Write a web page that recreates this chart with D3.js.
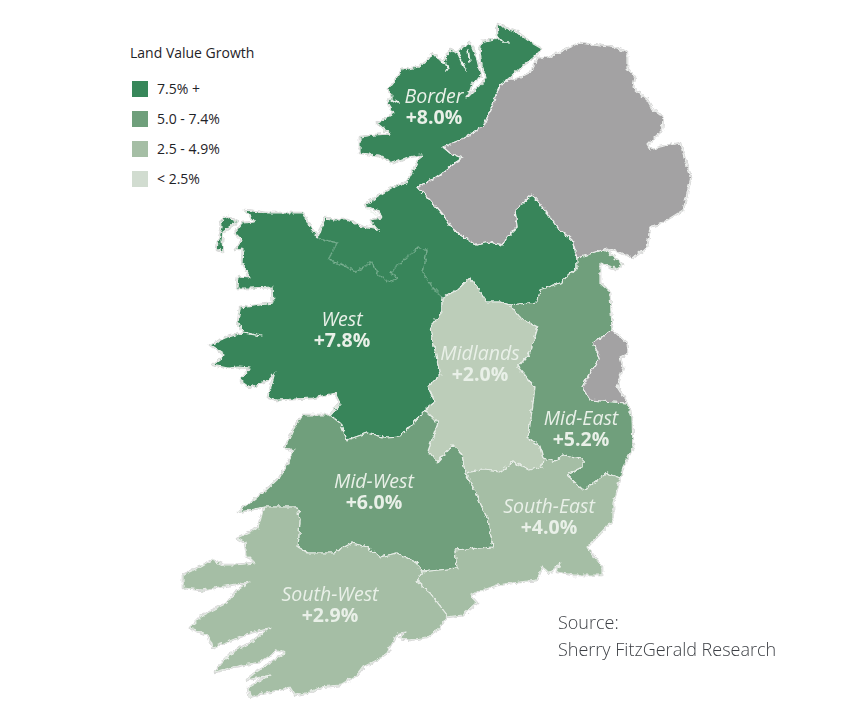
<!DOCTYPE html>
<html><head><meta charset="utf-8">
<script src="https://cdn.jsdelivr.net/npm/d3@7"></script>
<style>html,body{margin:0;padding:0;background:#fff}svg{display:block}text{font-family:"Open Sans",sans-serif}</style>
</head><body><svg id="c" width="862" height="705"></svg>
<script>
// ---- data ----
const regionNames = ["Border","West","Midlands","Mid-East","Mid-West","South-East","South-West"];
const regionValues = [8.0,7.8,2.0,5.2,6.0,4.0,2.9];
const legendTitle = "Land Value Growth";
const legendLabels = ["7.5% +","5.0 - 7.4%","2.5 - 4.9%","< 2.5%"];
const legendThresholds = [2.5,5,7.5];
const sourceLines = ["Source:","Sherry FitzGerald Research"];

// ---- map outline arcs (plane units) ----
const aBorderCoast=[[318,238],[325,218],[335,220],[347,220],[363,227],[378,230],[370,220],[382,218],[377,210],[365,205],[378,196],[393,187],[407,182],[413,170],[422,155],[408,157],[393,163],[378,155],[360,153],[360,137],[375,135],[390,134],[377,123],[386,118],[394,113],[387,102],[392,96],[388,90],[396,80],[402,70],[418,67],[428,60],[433,53],[440,60],[443,63],[450,50],[457,53],[463,47],[470,43],[477,60],[480,72],[481,77],[473,82],[470,90],[467,98],[473,92],[480,86],[486,78],[482,65],[480,52],[482,42],[498,38],[497,24],[506,28],[517,32],[530,42],[542,49],[533,58],[520,68],[507,80],[500,85]];
const aBorderNI=[[500,85],[497,92],[492,107],[483,127],[460,140],[443,147],[450,153],[462,158],[450,167],[432,180],[418,187],[430,200],[447,220],[453,230],[477,245],[490,242],[503,245],[507,237],[517,227],[515,210],[532,195],[547,213],[557,227],[572,240],[577,258]];
const aBorderMidEast=[[577,258],[577,268],[560,283],[540,290],[538,302],[510,305]];
const aBorderMidlands=[[510,305],[500,302],[487,302],[478,288],[470,278],[457,290],[442,298]];
const aWestBorder=[[442,298],[433,288],[423,273],[427,250],[418,247],[402,262],[390,273],[398,278],[388,282],[377,273],[372,262],[355,272],[343,265],[328,260],[337,243],[318,238]];
const aWestMidlands=[[442,298],[442,312],[430,328],[435,350],[440,375],[428,387],[435,402],[425,410]];
const aWestMidWest=[[425,410],[400,437],[387,438],[367,433],[347,440],[340,423],[330,415]];
const aWestCoast=[[330,415],[340,403],[335,393],[313,398],[277,400],[268,397],[275,372],[268,380],[250,387],[240,380],[250,368],[238,367],[228,368],[213,365],[225,355],[210,345],[225,338],[243,333],[262,336],[243,332],[238,322],[240,308],[273,303],[272,287],[250,288],[237,288],[238,277],[250,278],[242,262],[243,248],[235,250],[242,240],[235,233],[243,223],[255,222],[245,210],[267,213],[303,213],[310,227],[318,238]];
const aAchill=[[228,217],[237,222],[230,227],[223,232],[222,240],[223,252],[217,250],[218,242],[222,227],[221,220]];
const aMidlandsMidWest=[[425,410],[438,423],[428,450],[437,463],[453,445],[462,455],[465,473]];
const aMidlandsSE=[[465,473],[483,470],[500,472],[513,462],[530,470],[542,467],[543,458]];
const aMidlandsMidEast=[[543,458],[540,447],[528,437],[532,412],[535,387],[518,367],[530,353],[538,327],[520,318],[510,305]];
const aMidEastSE=[[543,458],[555,462],[563,455],[583,458],[583,467],[567,475],[583,490],[593,483],[607,473],[620,478]];
const aMidEastNI=[[577,258],[602,250],[608,252],[623,265],[617,269],[600,263],[600,283],[610,292],[612,330]];
const aMidEastDublin=[[612,330],[593,343],[600,357],[582,387],[590,400],[627,403]];
const aDublinCoast=[[627,403],[617,387],[623,367],[620,357],[628,353],[627,343],[612,330]];
const aMidEastCoast=[[627,403],[632,417],[633,447],[623,467],[620,478]];
const aMidWestCoast=[[330,415],[303,415],[293,430],[285,448],[295,450],[280,477],[263,493],[238,512],[265,507]];
const aSWMidWest=[[265,507],[297,507],[300,520],[298,547],[308,553],[333,553],[352,543],[367,547],[380,557],[397,553],[417,563],[422,572]];
const aSEMidWest=[[422,572],[457,568],[455,550],[493,547],[488,520],[473,487],[465,473]];
const aSESW=[[422,572],[417,582],[430,593],[447,615]];
const aSECoast=[[620,478],[613,503],[613,520],[587,547],[602,567],[602,575],[573,575],[557,572],[560,563],[550,573],[542,567],[537,580],[520,582],[497,585],[470,595],[477,603],[463,615],[447,617]];
const aSWCoast=[[447,617],[437,630],[427,637],[410,640],[400,638],[407,632],[398,633],[387,653],[377,660],[363,667],[357,675],[340,685],[320,687],[310,692],[295,695],[290,687],[270,692],[250,697],[248,688],[270,675],[247,680],[252,675],[285,653],[277,650],[260,662],[233,667],[215,672],[222,663],[233,652],[250,643],[270,628],[250,633],[227,642],[213,647],[208,635],[190,628],[203,615],[227,603],[237,590],[250,582],[230,585],[203,590],[183,588],[183,575],[200,567],[212,560],[223,565],[235,565],[255,563],[247,555],[245,543],[237,538],[258,528],[262,513],[265,507]];
const aNIFoyle=[[500,85],[507,81],[520,78],[530,73],[538,58]];
const aNICoast=[[538,58],[550,57],[560,52],[580,43],[593,45],[617,48],[627,53],[627,68],[635,77],[633,88],[647,100],[653,110],[663,117],[662,130],[647,145],[650,150],[660,147],[680,143],[685,160],[691,177],[683,210],[667,220],[650,227],[647,247],[633,258],[620,252],[607,248],[602,250]];
const inlets=[[[443,62],[449,66],[446,71]],[[458,52],[462,62],[466,70]],[[468,50],[470,62]],[[389,98],[398,103]],[[497,36],[503,42],[508,42]],[[366,208],[377,215]],[[370,225],[378,230]]];

const rev=a=>a.slice().reverse();
const ring=(...arcs)=>{const r=arcs.flat();return r.concat([r[0]]);};
const regionGeometry={
 "Border":[ring(aBorderCoast,aBorderNI,aBorderMidEast,aBorderMidlands,aWestBorder)],
 "West":[ring(aWestMidlands,aWestMidWest,aWestCoast,rev(aWestBorder)),ring(aAchill)],
 "Midlands":[ring(rev(aBorderMidlands),rev(aMidlandsMidEast),rev(aMidlandsSE),rev(aMidlandsMidWest),rev(aWestMidlands))],
 "Mid-East":[ring(rev(aBorderMidEast),aMidEastNI,aMidEastDublin,aMidEastCoast,rev(aMidEastSE),aMidlandsMidEast)],
 "Mid-West":[ring(rev(aWestMidWest),aMidlandsMidWest,rev(aSEMidWest),rev(aSWMidWest),rev(aMidWestCoast))],
 "South-East":[ring(aMidlandsSE,aMidEastSE,aSECoast,rev(aSESW),aSEMidWest)],
 "South-West":[ring(aSWMidWest,aSESW,aSWCoast)]
};
const greyGeometry=[ring(rev(aBorderNI),aNIFoyle,aNICoast),ring(aMidEastDublin,aDublinCoast)];

// ---- drawing ----
const svg=d3.select("#c");
const defs=svg.append("defs");
const rough=defs.append("filter").attr("id","rough").attr("filterUnits","userSpaceOnUse").attr("x",0).attr("y",0).attr("width",862).attr("height",705);
rough.append("feTurbulence").attr("type","fractalNoise").attr("baseFrequency",0.22).attr("numOctaves",2).attr("seed",4).attr("result","n");
rough.append("feDisplacementMap").attr("in","SourceGraphic").attr("in2","n").attr("scale",5).attr("xChannelSelector","R").attr("yChannelSelector","G").attr("result","d");
rough.append("feGaussianBlur").attr("in","d").attr("stdDeviation",0.5);
defs.append("filter").attr("id","soft").append("feGaussianBlur").attr("stdDeviation",0.4);
const legendColors=["#37875a","#6f9f7b","#a5bea5","#d1dcd0"];
const mapColors=["#37855a","#6f9f7b","#a5bea5","#bccdb9"];
const band=d3.scaleThreshold().domain(legendThresholds).range([3,2,1,0]);
const path=d3.geoPath(d3.geoIdentity());
const poly=(rings)=>({type:"MultiPolygon",coordinates:rings.map(r=>[r])});

const map=svg.append("g").attr("filter","url(#rough)");
const all=regionNames.map((n,i)=>({name:n,value:regionValues[i],geo:poly(regionGeometry[n])}));
map.selectAll("path.halo").data(all.map(d=>d.geo).concat([poly(greyGeometry)])).join("path")
  .attr("d",path).attr("fill","none").attr("stroke","#d4d4d4").attr("stroke-width",2.6).attr("stroke-linejoin","round");
map.selectAll("path.reg").data(all).join("path")
  .attr("d",d=>path(d.geo)).attr("fill",d=>mapColors[band(d.value)])
  .attr("stroke","#e6ece6").attr("stroke-width",1.2).attr("stroke-linejoin","round");
map.append("path").attr("d",path(poly(greyGeometry))).attr("fill","#a3a2a3").attr("stroke","#eceeec").attr("stroke-width",1.2).attr("stroke-linejoin","round");
const line=d3.line();
map.append("path").attr("d",line(aWestBorder)).attr("fill","none").attr("stroke",mapColors[0]).attr("stroke-width",1.8);
map.append("path").attr("d",line(aWestBorder)).attr("fill","none").attr("stroke","#82b497").attr("stroke-width",0.9);
map.selectAll("path.inlet").data(inlets).join("path").attr("d",d=>line(d)).attr("fill","none").attr("stroke","#eef3ee").attr("stroke-width",1.7).attr("stroke-linecap","round");

// region labels: one two-line text per region
const labelAnchor={"Border":[434,97],"West":[342,320],"Midlands":[480,354],"Mid-East":[581,419],"Mid-West":[374,482],"South-East":[549,507],"South-West":[330,595]};
const labels=svg.append("g").attr("filter","url(#soft)").selectAll("text").data(all).join("text")
  .attr("transform",d=>`translate(${labelAnchor[d.name]})`).attr("text-anchor","middle").attr("fill","#e9f0e8").attr("font-size",19.5);
labels.append("tspan").attr("x",0).attr("y",6).attr("font-style","italic").text(d=>d.name);
labels.append("tspan").attr("x",0).attr("y",27).attr("font-weight",700).text(d=>"+"+d.value.toFixed(1)+"%");

// legend
svg.append("text").attr("x",130).attr("y",58).attr("font-size",14).attr("fill","#1f2328").text(legendTitle);
const rowY=d3.scalePoint().domain(legendLabels).range([89,179]);
const leg=svg.selectAll("g.leg").data(legendLabels).join("g").attr("transform",d=>`translate(132,${rowY(d)})`);
leg.append("rect").attr("y",-8).attr("width",16).attr("height",16).attr("fill",(d,i)=>legendColors[i]);
leg.append("text").attr("x",25).attr("y",5).attr("font-size",14).attr("fill","#1f2328").text(d=>d);

// source
svg.selectAll("text.src").data(sourceLines).join("text").attr("x",558).attr("y",(d,i)=>629+i*26.5)
  .attr("font-size",18).attr("font-weight",300).attr("fill","#3c3f44").text(d=>d);
</script></body></html>
